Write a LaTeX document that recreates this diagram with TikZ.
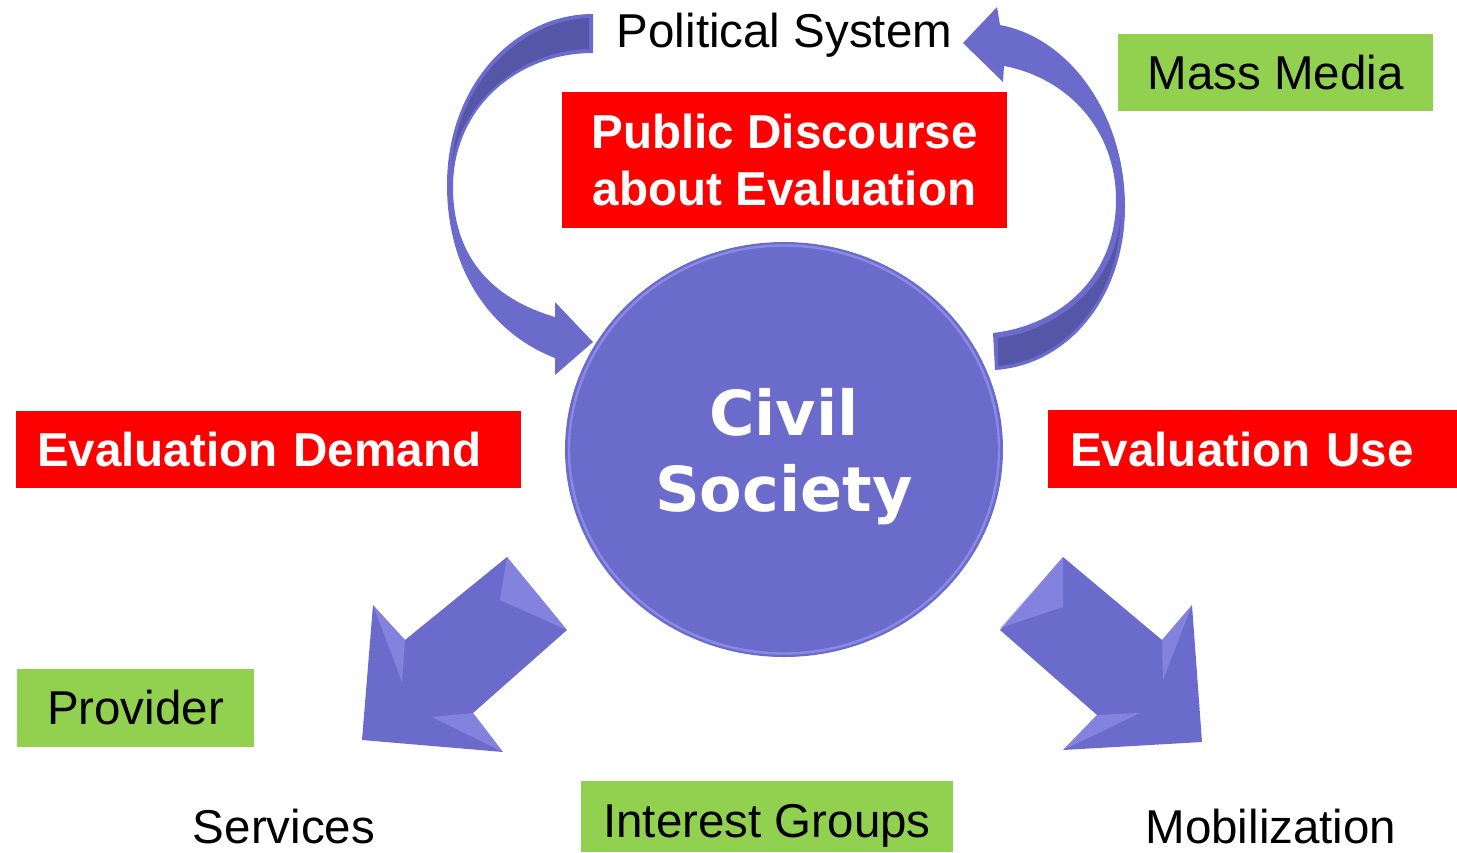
\documentclass[tikz,border=0pt]{standalone}
\usepackage{fontspec}
\setmainfont{Liberation Sans}
\newfontfamily\civilfont{DejaVu Sans}
\usetikzlibrary{shapes.geometric}
\definecolor{civilblue}{HTML}{6B6BCC}
\definecolor{bandblue}{HTML}{5656A8}
\definecolor{facetblue}{HTML}{9898F0}
\definecolor{boxred}{HTML}{FF0000}
\definecolor{boxgreen}{HTML}{92D050}
\tikzset{
  redbox/.style={fill=boxred, text=white, inner sep=0pt,
    font=\bfseries\fontsize{23.8}{28.5}\selectfont},
  greenbox/.style={fill=boxgreen, inner sep=0pt, text height=17pt, text depth=0pt,
    font=\fontsize{23.75}{28.5}\selectfont},
  plainlabel/.style={inner sep=0pt, anchor=base, font=\fontsize{23.75}{28.5}\selectfont},
  facet/.style={fill=facetblue, opacity=0.55}
}
\begin{document}
\begin{tikzpicture}[x=0.5pt,y=-0.5pt]
        \useasboundingbox (0,0) rectangle (1457,852);

        % curved arrows
        \fill[civilblue] (593,14) .. controls (515,14) and (447,85) .. (447,185)
          .. controls (447,275) and (495,335) .. (555,358) -- (555,375) -- (593,342)
          -- (555,302) -- (555,317) .. controls (490,298) and (453,255) .. (453,187)
          .. controls (453,110) and (515,53) .. (593,53) -- cycle;
        \fill[bandblue] (589,18) .. controls (520,20) and (455,85) .. (452,168)
          .. controls (456,110) and (515,50) .. (589,49) -- cycle;

        \fill[civilblue] (995,370) .. controls (1070,365) and (1125,295) .. (1125,207)
          .. controls (1125,115) and (1070,38) .. (1000,25) -- (997,7) -- (963,43)
          -- (1003,82) -- (1004,66) .. controls (1068,78) and (1116,130) .. (1116,200)
          .. controls (1116,275) and (1062,325) .. (993,333) -- cycle;
        \fill[bandblue] (998,366) .. controls (1068,360) and (1120,295) .. (1121,212)
          .. controls (1118,280) and (1062,330) .. (998,338) -- cycle;

        % down arrows
        \fill[civilblue] (507,557) -- (567,630) -- (473,713) -- (503,752) -- (362,740)
          -- (373,605) -- (405,640) -- cycle;
        \fill[facet] (507,557) -- (567,630) -- (500,600) -- cycle;
        \fill[facet] (373,605) -- (405,640) -- (402,682) -- cycle;
        \fill[facet] (473,713) -- (503,752) -- (432,717) -- cycle;

        \fill[civilblue] (1063,557) -- (1000,630) -- (1097,715) -- (1063,750) -- (1202,742)
          -- (1192,605) -- (1162,640) -- cycle;
        \fill[facet] (1063,557) -- (1000,628) -- (1063,607) -- cycle;
        \fill[facet] (1192,605) -- (1162,640) -- (1163,680) -- cycle;
        \fill[facet] (1097,715) -- (1063,750) -- (1140,713) -- cycle;

        \node (civil) [ellipse, fill=civilblue, minimum width=219pt, minimum height=207.5pt,
          inner sep=0pt, text=white, align=center, text depth=0pt,
          font=\civilfont\bfseries\fontsize{31}{38}\selectfont] at (784,449.5) {Civil\\Society};
        \draw[facetblue, line width=1.2pt, opacity=0.7] (civil.center)
          ellipse [x radius=107.5pt, y radius=102pt];

        \node (pol) [plainlabel] at (784.5,47) {Political System};
        \node (serv) [plainlabel] at (284,843) {Services};
        \node (mob) [plainlabel] at (1271,843) {Mobilization};

        \begin{scope}[every node/.style={redbox}]
          \node (disc) [minimum width=222.5pt, minimum height=68pt, align=center]
            at (784.5,160) {Public Discourse\\about Evaluation};
          \node (demand) [text width=231.5pt, inner xsep=10.5pt, minimum height=38.5pt,
            align=left, text height=17pt, text depth=0pt] at (268.5,449.5) {Evaluation Demand};
          \node (use) [text width=182.5pt, inner xsep=11pt, minimum height=39pt,
            align=left, text height=17pt, text depth=0pt] at (1252.5,449) {Evaluation Use};
        \end{scope}

        \begin{scope}[every node/.style={greenbox}]
          \node (media)    [minimum width=157.5pt, minimum height=38.5pt] at (1275.5,72.5) {Mass Media};
          \node (provider) [minimum width=118.5pt, minimum height=39pt]   at (135.5,707.5) {Provider};
          \node (groups)   [minimum width=186pt,   minimum height=35.5pt, text height=20.5pt]
            at (767,816.5)  {Interest Groups};
        \end{scope}

      \end{tikzpicture}
\end{document}
